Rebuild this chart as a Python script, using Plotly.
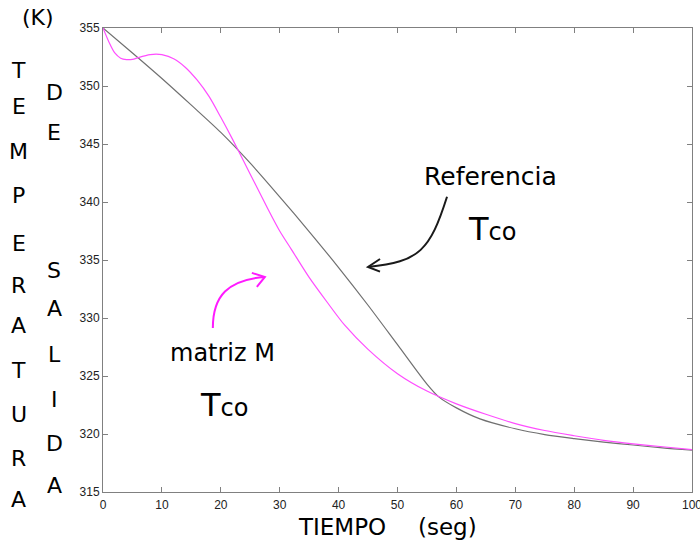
import plotly.graph_objects as go

# Time axis (s) and outlet temperature (K)
tiempo_ref = [0, 5, 10, 15, 20, 25, 30, 35, 40, 45, 50, 55, 57, 60, 64, 70, 75, 80, 85, 90, 95, 100]
temp_ref = [355.0, 352.85, 350.65, 348.35, 346.0, 343.35, 340.45, 337.45, 334.35, 331.1, 327.7,
            324.3, 323.2, 322.25, 321.3, 320.45, 319.95, 319.6, 319.3, 319.05, 318.8, 318.6]

tiempo_m = [0, 1, 2, 3, 4, 5, 6, 8, 9, 10, 12, 14, 16, 18, 20, 22, 24, 26, 28, 30, 32, 35, 38,
            41, 45, 50, 55, 60, 65, 70, 75, 80, 85, 90, 95, 100]
temp_m = [355.0, 353.8, 352.85, 352.4, 352.28, 352.3, 352.45, 352.7, 352.75, 352.7, 352.35,
          351.6, 350.5, 349.1, 347.3, 345.4, 343.4, 341.4, 339.4, 337.5, 335.9, 333.5, 331.4,
          329.4, 327.3, 325.2, 323.7, 322.6, 321.7, 320.9, 320.3, 319.85, 319.45, 319.15,
          318.9, 318.65]

x_ticks = [0, 10, 20, 30, 40, 50, 60, 70, 80, 90, 100]
y_ticks = [315, 320, 325, 330, 335, 340, 345, 350, 355]

# Stacked vertical axis title: (letter, vertical pixel position)
col_temperatura = [("T", 71), ("E", 107), ("M", 151), ("P", 195), ("E", 243), ("R", 285),
                   ("A", 325), ("T", 370), ("U", 414), ("R", 458), ("A", 500)]
col_salida = [("D", 92), ("E", 133), ("S", 270), ("A", 308), ("L", 354), ("I", 399),
              ("D", 443), ("A", 485)]

W, H = 700, 546
ML, MR, MT, MB = 103, 8, 28, 54
FONT = "DejaVu Sans"


def px_to_paper(px, py):
    return (px - ML) / (W - ML - MR), 1 - (py - MT) / (H - MT - MB)


def bezier_path(pts):
    (x0, y0), (x1, y1), (x2, y2), (x3, y3) = pts
    return f"M {x0},{y0} C {x1},{y1} {x2},{y2} {x3},{y3}"


def head_path(tip, a, b):
    return f"M {a[0]},{a[1]} L {tip[0]},{tip[1]} L {b[0]},{b[1]}"


fig = go.Figure()
fig.add_trace(go.Scatter(x=tiempo_ref, y=temp_ref, mode="lines",
                         line=dict(color="#707070", width=1.2, shape="spline", smoothing=0.8),
                         name="Referencia"))
fig.add_trace(go.Scatter(x=tiempo_m, y=temp_m, mode="lines",
                         line=dict(color="#ff4dff", width=1.2, shape="spline", smoothing=0.8),
                         name="matriz M"))

annotations = []


def add_text(text, px, py, size, xanchor="center", color="black"):
    x, y = px_to_paper(px, py)
    annotations.append(dict(text=text, x=x, y=y, xref="paper", yref="paper",
                            xanchor=xanchor, yanchor="middle", showarrow=False,
                            font=dict(family=FONT, size=size, color=color)))


add_text("(K)", 38, 18, 22)
for letter, py in col_temperatura:
    add_text(letter, 19, py, 22)
for letter, py in col_salida:
    add_text(letter, 54, py, 22)

add_text("TIEMPO", 342, 527, 23)
add_text("(seg)", 447, 527, 23)
add_text("Referencia", 490, 177, 25)
add_text("T<span style='font-size:24px'>co</span>", 466, 229, 32, xanchor="left")
add_text("matriz M", 222, 353, 24)
add_text("T<span style='font-size:24px'>co</span>", 198, 405, 32, xanchor="left")

# Curved pointer arrows (data coordinates)
ref_arrow = [(58.41, 340.45), (55.52, 335.87), (53.82, 334.84), (44.99, 334.40)]
ref_head = [(44.99, 334.40), (47.03, 335.09), (47.03, 334.0)]
m_arrow = [(18.65, 329.14), (18.65, 331.9), (21.19, 333.28), (27.48, 333.54)]
m_head = [(27.48, 333.54), (25.27, 333.89), (26.12, 332.68)]

shapes = []
for curve, head, col in [(ref_arrow, ref_head, "#1a1a1a"), (m_arrow, m_head, "#ff1aff")]:
    shapes.append(dict(type="path", xref="x", yref="y", path=bezier_path(curve),
                       line=dict(color=col, width=2)))
    shapes.append(dict(type="path", xref="x", yref="y", path=head_path(*head),
                       line=dict(color=col, width=2)))

axis_style = dict(showline=True, linecolor="#808080", linewidth=1, mirror="ticks",
                  ticks="inside", ticklen=5, tickcolor="#808080", showgrid=False,
                  zeroline=False, ticklabeloverflow="allow", automargin=False,
                  tickfont=dict(family="Liberation Sans", size=12, color="#222"))

fig.update_layout(
    width=W, height=H,
    margin=dict(l=ML, r=MR, t=MT, b=MB, autoexpand=False),
    paper_bgcolor="white", plot_bgcolor="white",
    showlegend=False,
    xaxis=dict(range=[0, 100], tickvals=x_ticks, ticklabelstandoff=2, **axis_style),
    yaxis=dict(range=[315, 355], tickvals=y_ticks, **axis_style),
    annotations=annotations,
    shapes=shapes,
)

fig.write_html("out.html")
